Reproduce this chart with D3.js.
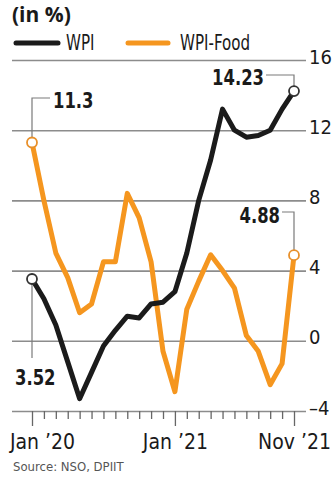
<!DOCTYPE html>
<html><head><meta charset="utf-8">
<script src="https://cdn.jsdelivr.net/npm/d3@7"></script>
<style>
html,body{margin:0;padding:0;background:#fff;}
svg{display:block;}
.cond{font-family:"Liberation Sans Narrow","DejaVu Sans Condensed","Roboto",sans-serif;}
</style></head>
<body>
<svg id="c" width="332" height="484"></svg>
<script>
const months = ["Jan 20","Feb 20","Mar 20","Apr 20","May 20","Jun 20","Jul 20","Aug 20","Sep 20","Oct 20","Nov 20","Dec 20",
                "Jan 21","Feb 21","Mar 21","Apr 21","May 21","Jun 21","Jul 21","Aug 21","Sep 21","Oct 21","Nov 21"];
const wpi = [3.52, 2.4, 0.9, -1.2, -3.3, -1.8, -0.3, 0.6, 1.4, 1.3, 2.1, 2.2, 2.8, 5.0, 8.0, 10.3, 13.2, 12.0, 11.6, 11.7, 12.0, 13.2, 14.23];
const wpiFood = [11.3, 8.0, 5.0, 3.6, 1.6, 2.1, 4.5, 4.5, 8.4, 7.0, 4.5, -0.6, -2.9, 1.8, 3.4, 4.9, 4.0, 3.0, 0.3, -0.6, -2.5, -1.3, 4.88];
const yTicks = [-4, 0, 4, 8, 12, 16];
const xTickLabels = {"Jan 20":"Jan \u201920","Jan 21":"Jan \u201921","Nov 21":"Nov \u201921"};
const seriesNames = ["WPI","WPI-Food"];
const colors = {"WPI":"#1b1b1b","WPI-Food":"#f5961f"};

const svg = d3.select("#c");
const x = d3.scalePoint().domain(months).range([32, 294]);
const y = d3.scaleLinear().domain([-4, 16]).range([411, 60]);
const gridL = 12, gridR = 306;

function ctext(px, py, txt, opts){
  const t = svg.append("text").attr("class","cond")
    .attr("transform",`translate(${px},${py}) scale(${opts.sx||1},1)`)
    .attr("font-size",opts.size).attr("fill","#1a1a1a")
    .attr("text-anchor",opts.anchor||"start").text(txt);
  if(opts.bold) t.attr("font-weight","bold");
  return t;
}

// title
svg.append("text").attr("x",12).attr("y",22).attr("font-family","'Open Sans','DejaVu Sans',sans-serif")
  .attr("font-weight","bold").attr("font-size",21).attr("fill","#1a1a1a").text("(in %)");

// legend
const leg = [{n:"WPI",x1:16,x2:58,tx:66},{n:"WPI-Food",x1:128,x2:168,tx:180}];
leg.forEach(l=>{
  svg.append("line").attr("x1",l.x1).attr("x2",l.x2).attr("y1",43).attr("y2",43)
    .attr("stroke",colors[l.n]).attr("stroke-width",5).attr("stroke-linecap","round");
  ctext(l.tx, 50, l.n, {size:21, sx:0.8});
});

// y grid via axis
const ya = svg.append("g").attr("transform",`translate(${gridR},0)`)
  .call(d3.axisRight(y).tickValues(yTicks).tickSize(-(gridR-gridL)).tickFormat(d=>d<0?"\u2013"+(-d):d));
ya.select(".domain").remove();
ya.selectAll(".tick line").attr("stroke","#8c8c8c").attr("stroke-width",1.6);
ya.selectAll(".tick text").attr("class","cond").attr("x",3).attr("dy","0.15em")
  .attr("font-size",20).attr("fill","#1a1a1a").attr("text-anchor","start");

// x axis
const xa = svg.append("g").attr("transform",`translate(0,${y(-4)})`)
  .call(d3.axisBottom(x).tickValues(months).tickSize(8).tickPadding(20).tickFormat(d=>xTickLabels[d]||""));
xa.select(".domain").remove();
xa.selectAll(".tick line").attr("stroke","#666").attr("stroke-width",1.3)
  .attr("y2",d=>xTickLabels[d]?15:8);
xa.selectAll(".tick text").attr("class","cond").attr("font-size",21).attr("fill","#1a1a1a")
  .attr("y",23).attr("dx",d=>d==="Jan 20"?10:0);

// lines
const line = d3.line().x((d,i)=>x(months[i])).y(d=>y(d)).curve(d3.curveLinear);
[["WPI-Food",wpiFood],["WPI",wpi]].forEach(([n,vals])=>{
  svg.append("path").datum(vals).attr("d",line).attr("fill","none")
    .attr("stroke",colors[n]).attr("stroke-width",5).attr("stroke-linejoin","round").attr("stroke-linecap","round");
});

// annotations
const lead = "#7a7a7a";
function leader(pts){
  svg.append("path").attr("d",d3.line()(pts)).attr("fill","none").attr("stroke",lead).attr("stroke-width",1.2);
}
const first = months[0], last = months[months.length-1];
const r = 5;
leader([[x(first),y(wpiFood[0])-r],[x(first),98],[x(first)+18,98]]);
leader([[x(first),y(wpi[0])+r],[x(first),358]]);
leader([[x(last),y(wpi[22])-r],[x(last),75],[x(last)-28,75]]);
leader([[x(last),y(wpiFood[22])-r],[x(last),212],[x(last)-12,212]]);

const lbl = [
  {t:wpiFood[0], x:x(first)+21, y:108, a:"start"},
  {t:wpi[0], x:15, y:385, a:"start"},
  {t:wpi[22], x:x(last)-30, y:85, a:"end"},
  {t:wpiFood[22], x:x(last)-14, y:223, a:"end"}
];
lbl.forEach(l=>ctext(l.x, l.y, l.t, {size:22, bold:true, sx:0.83, anchor:l.a}));

// end circles
[["WPI",wpi],["WPI-Food",wpiFood]].forEach(([n,vals])=>{
  [0, vals.length-1].forEach(i=>{
    svg.append("circle").attr("cx",x(months[i])).attr("cy",y(vals[i])).attr("r",r)
      .attr("fill","#fff").attr("stroke",n==="WPI"?"#333":"#e8902a").attr("stroke-width",1.8);
  });
});

// source
svg.append("text").attr("x",13).attr("y",471).attr("font-family","'DejaVu Sans Condensed','DejaVu Sans',sans-serif")
  .attr("font-size",13).attr("fill","#555").text("Source: NSO, DPIIT");
</script>
</body></html>
